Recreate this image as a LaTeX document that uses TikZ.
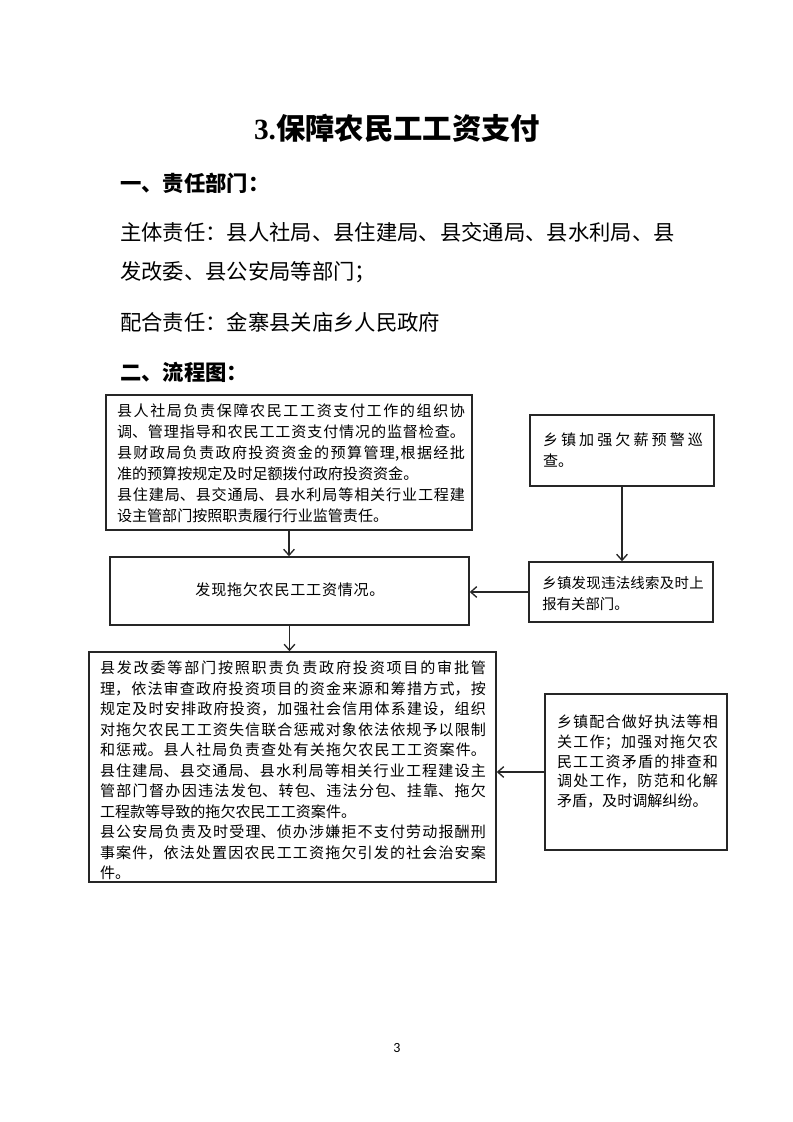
\documentclass[tikz,border=0pt]{standalone}
\usepackage{fontspec}
\setmainfont{Noto Sans CJK SC}
\newfontfamily\latinserif{Liberation Serif}
\newfontfamily\pagefont{Carlito}
\usetikzlibrary{arrows.meta}
\XeTeXlinebreaklocale "zh"
\XeTeXlinebreakskip=0pt plus 3pt
\tikzset{
  box/.style={draw=black!85, line width=1.1pt, inner sep=0pt},
  txt/.style={inner sep=0pt, align=justify},
  plain/.style={inner sep=0pt},
  arr/.style={-{Straight Barb[length=4.5pt,width=8pt]}, line width=1pt, draw=black!85},
}
\newcommand{\boxfont}[2]{\fontsize{#1}{#2}\selectfont\parindent=0pt}
\newcommand{\fullpar}{\parfillskip=0pt\relax}
\begin{document}
\begin{tikzpicture}[x=0.75pt,y=-0.75pt]
\fill[white] (0,0) rectangle (793,1122);
\useasboundingbox (0,0) rectangle (793,1122);

% headings and text
\node[plain] (title) at (397,128) {\fontsize{22pt}{26pt}\selectfont\bfseries{\latinserif 3.}保障农民工工资支付};
\node[plain, anchor=west] (h1) at (120,183) {\fontsize{16pt}{20pt}\selectfont\bfseries 一、责任部门：};
\node[plain, anchor=west] (l1) at (120,232) {\fontsize{16pt}{20pt}\selectfont 主体责任：县人社局、县住建局、县交通局、县水利局、县};
\node[plain, anchor=west] (l2) at (120,272) {\fontsize{16pt}{20pt}\selectfont 发改委、县公安局等部门；};
\node[plain, anchor=west] (l3) at (120,322) {\fontsize{16pt}{20pt}\selectfont 配合责任：金寨县关庙乡人民政府};
\node[plain, anchor=west] (h2) at (120,372) {\fontsize{16pt}{20pt}\selectfont\bfseries 二、流程图：};

% boxes
\node[box, minimum width=274.5pt, minimum height=101.25pt] (b1) at (289,462.5) {};
\node[box, minimum width=138pt, minimum height=53.25pt] (b2) at (622,450.5) {};
\node[box, minimum width=269.25pt, minimum height=51pt] (b3) at (289.5,591) {};
\node[box, minimum width=138pt, minimum height=45pt] (b4) at (621,592) {};
\node[box, minimum width=305.25pt, minimum height=172.5pt] (b5) at (292.5,767) {};
\node[box, minimum width=136.5pt, minimum height=117pt] (b6) at (636,772) {};

% box texts
\node[txt, text width=261pt, font={\boxfont{11.3pt}{15.75pt}}] (t1) at (291,463) {%
县人社局负责保障农民工工资支付工作的组织协\linebreak
调、管理指导和农民工工资支付情况的监督检查。\linebreak
县财政局负责政府投资资金的预算管理,根据经批\linebreak
准的预算按规定及时足额拨付政府投资资金。\par
县住建局、县交通局、县水利局等相关行业工程建\linebreak
设主管部门按照职责履行行业监管责任。};

\node[txt, text width=120pt, font={\boxfont{11.3pt}{15.75pt}}] (t2) at (623,450.5) {%
乡镇加强欠薪预警巡\linebreak
查。};

\node[plain, font={\fontsize{11.3pt}{15pt}\selectfont\addfontfeature{LetterSpace=5}}] (t3) at (290,590) {发现拖欠农民工工资情况。};

\node[txt, text width=121pt, font={\boxfont{10.8pt}{15.75pt}}] (t4) at (623,593.5) {%
乡镇发现违法线索及时上\linebreak
报有关部门。};

\node[txt, text width=289.5pt, font={\boxfont{11.3pt}{15.4pt}}] (t5) at (293,770.5) {%
县发改委等部门按照职责负责政府投资项目的审批管\linebreak
理，依法审查政府投资项目的资金来源和筹措方式，按\linebreak
规定及时安排政府投资，加强社会信用体系建设，组织\linebreak
对拖欠农民工工资失信联合惩戒对象依法依规予以限制\linebreak
和惩戒。县人社局负责查处有关拖欠农民工工资案件。\linebreak
县住建局、县交通局、县水利局等相关行业工程建设主\linebreak
管部门督办因违法发包、转包、违法分包、挂靠、拖欠\linebreak
工程款等导致的拖欠农民工工资案件。\par
县公安局负责及时受理、侦办涉嫌拒不支付劳动报酬刑\linebreak
事案件，依法处置因农民工工资拖欠引发的社会治安案\linebreak
件。};

\node[txt, text width=120.75pt, font={\boxfont{11.3pt}{14.8pt}}] (t6) at (637.5,761.5) {\fullpar
乡镇配合做好执法等相\linebreak
关工作；加强对拖欠农\linebreak
民工工资矛盾的排查和\linebreak
调处工作，防范和化解\linebreak
矛盾，及时调解纠纷。};

% connectors
\draw[arr] (b1.south) -- (b1.south |- b3.north);
\draw[arr] (b2.south) -- (b2.south |- b4.north);
\draw[arr] (b4.west) -- (b4.west -| b3.east);
\draw[arr] (b3.south) -- (b3.south |- b5.north);
\draw[arr] (b6.west) -- (b6.west -| b5.east);

% page number
\node[plain] (pg) at (397,1048) {\pagefont\fontsize{10.5pt}{12pt}\selectfont 3};
\end{tikzpicture}
\end{document}
